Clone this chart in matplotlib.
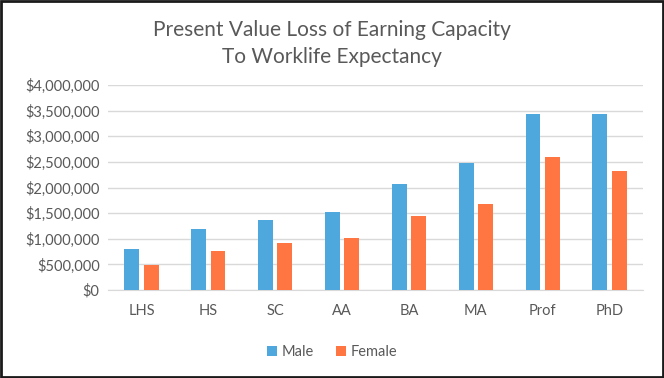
import matplotlib
matplotlib.use("Agg")
import matplotlib.pyplot as plt
import matplotlib.patches as mpatches
from matplotlib.ticker import FuncFormatter
import numpy as np

categories = ["LHS", "HS", "SC", "AA", "BA", "MA", "Prof", "PhD"]
male = [800000, 1190000, 1365000, 1530000, 2078000, 2480000, 3435000, 3435000]
female = [492000, 752000, 916000, 1019000, 1442000, 1676000, 2591000, 2330000]

BLUE = "#4EA7DD"
ORANGE = "#FF7643"
GREY = "#595959"

plt.rcParams["font.family"] = ["Lato", "DejaVu Sans"]

fig = plt.figure(figsize=(6.64, 3.78), dpi=100)
ax = fig.add_axes([108 / 664, 1 - 290 / 378, 535 / 664, 205 / 378])

x = np.arange(len(categories))
w = 0.224
gap = 0.066
ax.bar(x - (w + gap) / 2, male, width=w, color=BLUE, label="Male", zorder=3)
ax.bar(x + (w + gap) / 2, female, width=w, color=ORANGE, label="Female", zorder=3)

ax.set_xlim(-0.5, len(categories) - 0.5)
ax.set_ylim(0, 4000000)
ax.set_yticks(np.arange(0, 4000001, 500000))
ax.yaxis.set_major_formatter(FuncFormatter(lambda v, p: f"${v:,.0f}"))
ax.set_xticks(x)
ax.set_xticklabels(categories)
ax.tick_params(axis="both", length=0, labelsize=10.5, colors=GREY)
ax.tick_params(axis="x", pad=10)
ax.tick_params(axis="y", pad=6)
ax.grid(axis="y", color="#D9D9D9", linewidth=1.0, zorder=0)
for s in ["top", "right", "left"]:
    ax.spines[s].set_visible(False)
ax.spines["bottom"].set_color("#D9D9D9")

fig.text(0.5, 1 - 30 / 378, "Present Value Loss of Earning Capacity",
         ha="center", va="center", fontsize=15, color=GREY)
fig.text(0.5, 1 - 57 / 378, "To Worklife Expectancy",
         ha="center", va="center", fontsize=15, color=GREY)

fig.legend(loc="center", bbox_to_anchor=(0.5, 1 - 352 / 378), ncol=2,
           frameon=False, fontsize=10.5, labelcolor=GREY,
           handlelength=0.7, handleheight=0.7, handletextpad=0.3, columnspacing=1.5)

fig.patches.append(mpatches.Rectangle((0.0015, 0.0025), 0.997, 0.995,
                                      transform=fig.transFigure, fill=False,
                                      edgecolor="#1a1a1a", linewidth=2))

fig.savefig("out.png", dpi=100)
